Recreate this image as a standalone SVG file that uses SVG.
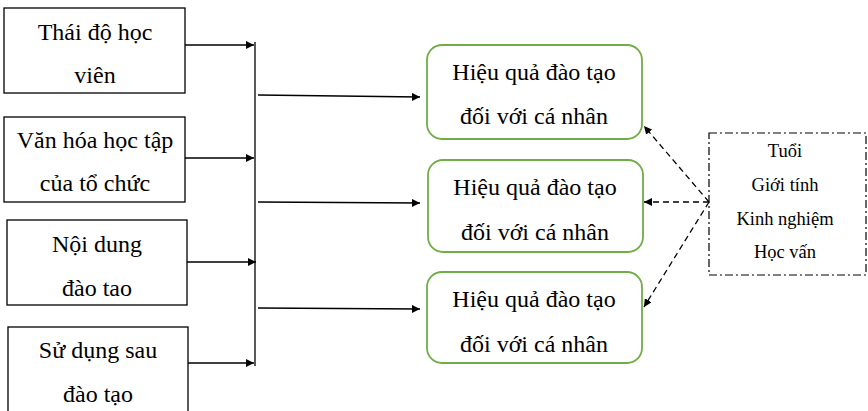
<svg xmlns="http://www.w3.org/2000/svg" width="868" height="411" viewBox="0 0 868 411">
  <style>
    .box { fill: #ffffff; stroke: #000000; stroke-width: 1.3; }
    .res { fill: #ffffff; stroke: #70ad47; stroke-width: 1.8; }
    .mod { fill: #ffffff; stroke: #000000; stroke-width: 1.2; stroke-dasharray: 8 3 2 3; }
    .ln { fill: none; stroke: #000000; stroke-width: 1.3; }
    .dash { fill: none; stroke: #000000; stroke-width: 1.3; stroke-dasharray: 6 4; }
  </style>
  <defs>
    <marker id="arrow" viewBox="0 0 10 10" refX="10" refY="5" markerWidth="8" markerHeight="8" markerUnits="userSpaceOnUse" orient="auto">
      <path d="M0,0 L10,5 L0,10 z" fill="#000000"/>
    </marker>
  </defs>

  <!-- factor boxes -->
  <g id="thai-do">
    <rect class="box" x="4" y="8" width="181" height="85"/>
    <text style="font-family: 'Liberation Serif', serif; font-size: 24px" font-family="Liberation Serif" text-anchor="middle" x="95" y="40">Thái độ học</text>
    <text style="font-family: 'Liberation Serif', serif; font-size: 24px" font-family="Liberation Serif" text-anchor="middle" x="95" y="83">viên</text>
  </g>
  <g id="van-hoa">
    <rect class="box" x="4" y="117" width="181" height="85"/>
    <text style="font-family: 'Liberation Serif', serif; font-size: 24px" font-family="Liberation Serif" text-anchor="middle" x="95" y="148">Văn hóa học tập</text>
    <text style="font-family: 'Liberation Serif', serif; font-size: 24px" font-family="Liberation Serif" text-anchor="middle" x="95" y="191">của tổ chức</text>
  </g>
  <g id="noi-dung">
    <rect class="box" x="7" y="220" width="180" height="85"/>
    <text style="font-family: 'Liberation Serif', serif; font-size: 24px" font-family="Liberation Serif" text-anchor="middle" x="97" y="252">Nội dung</text>
    <text style="font-family: 'Liberation Serif', serif; font-size: 24px" font-family="Liberation Serif" text-anchor="middle" x="97" y="296">đào tao</text>
  </g>
  <g id="su-dung">
    <rect class="box" x="8" y="327" width="180" height="100"/>
    <text style="font-family: 'Liberation Serif', serif; font-size: 24px" font-family="Liberation Serif" text-anchor="middle" x="98" y="358">Sử dụng sau</text>
    <text style="font-family: 'Liberation Serif', serif; font-size: 24px" font-family="Liberation Serif" text-anchor="middle" x="98" y="402">đào tạo</text>
  </g>

  <!-- outcome boxes -->
  <g id="hieu-qua-1">
    <rect class="res" x="427" y="45" width="215" height="94" rx="15" ry="15"/>
    <text style="font-family: 'Liberation Serif', serif; font-size: 24px" font-family="Liberation Serif" text-anchor="middle" x="534" y="80">Hiệu quả đào tạo</text>
    <text style="font-family: 'Liberation Serif', serif; font-size: 24px" font-family="Liberation Serif" text-anchor="middle" x="534" y="124">đối với cá nhân</text>
  </g>
  <g id="hieu-qua-2">
    <rect class="res" x="428" y="160" width="215" height="92" rx="15" ry="15"/>
    <text style="font-family: 'Liberation Serif', serif; font-size: 24px" font-family="Liberation Serif" text-anchor="middle" x="535" y="195">Hiệu quả đào tạo</text>
    <text style="font-family: 'Liberation Serif', serif; font-size: 24px" font-family="Liberation Serif" text-anchor="middle" x="535" y="240">đối với cá nhân</text>
  </g>
  <g id="hieu-qua-3">
    <rect class="res" x="427" y="272" width="215" height="91" rx="15" ry="15"/>
    <text style="font-family: 'Liberation Serif', serif; font-size: 24px" font-family="Liberation Serif" text-anchor="middle" x="534" y="307">Hiệu quả đào tạo</text>
    <text style="font-family: 'Liberation Serif', serif; font-size: 24px" font-family="Liberation Serif" text-anchor="middle" x="534" y="352">đối với cá nhân</text>
  </g>

  <!-- moderators -->
  <g id="dac-diem">
    <rect class="mod" x="709" y="133" width="157" height="142"/>
    <text style="font-family: 'Liberation Serif', serif; font-size: 18.5px" font-family="Liberation Serif" text-anchor="middle" x="785" y="157">Tuổi</text>
    <text style="font-family: 'Liberation Serif', serif; font-size: 18.5px" font-family="Liberation Serif" text-anchor="middle" x="785" y="191">Giới tính</text>
    <text style="font-family: 'Liberation Serif', serif; font-size: 18.5px" font-family="Liberation Serif" text-anchor="middle" x="785" y="225">Kinh nghiệm</text>
    <text style="font-family: 'Liberation Serif', serif; font-size: 18.5px" font-family="Liberation Serif" text-anchor="middle" x="785" y="258">Học vấn</text>
  </g>

  <!-- connectors -->
  <g id="connectors">
    <line class="ln" x1="255" y1="42" x2="255" y2="366"/>
    <line class="ln" x1="185" y1="45" x2="254" y2="45" marker-end="url(#arrow)"/>
    <line class="ln" x1="185" y1="158" x2="254" y2="158" marker-end="url(#arrow)"/>
    <line class="ln" x1="187" y1="262" x2="256" y2="262" marker-end="url(#arrow)"/>
    <line class="ln" x1="188" y1="363" x2="254" y2="363" marker-end="url(#arrow)"/>

    <line class="ln" x1="258" y1="95" x2="420" y2="97" marker-end="url(#arrow)"/>
    <line class="ln" x1="258" y1="202" x2="420" y2="203" marker-end="url(#arrow)"/>
    <line class="ln" x1="258" y1="308" x2="420" y2="309" marker-end="url(#arrow)"/>

    <line class="dash" x1="709" y1="202" x2="644" y2="126" marker-end="url(#arrow)"/>
    <line class="dash" x1="709" y1="202" x2="644" y2="202" marker-end="url(#arrow)"/>
    <line class="dash" x1="709" y1="202" x2="644" y2="307" marker-end="url(#arrow)"/>
  </g>
</svg>
